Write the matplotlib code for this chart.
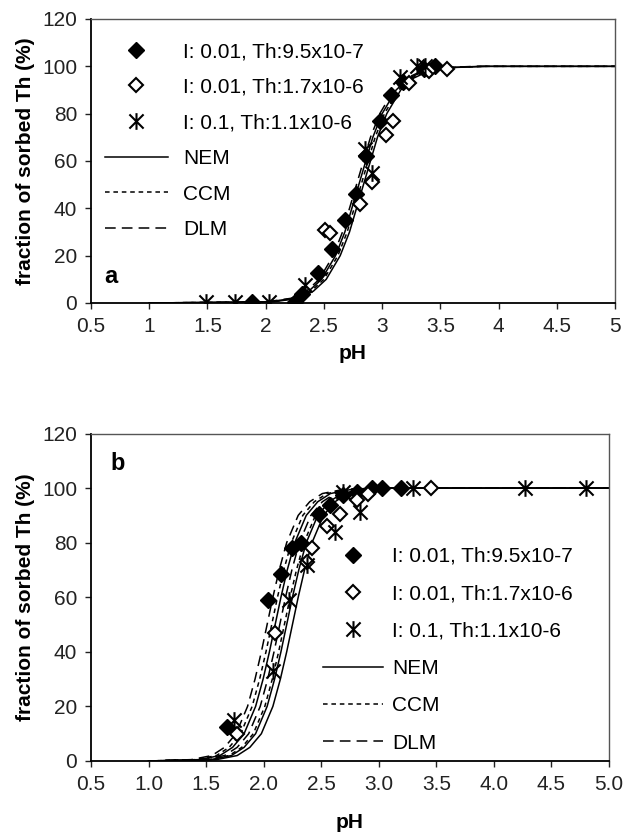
import matplotlib
matplotlib.use('Agg')
import matplotlib.pyplot as plt
from matplotlib.path import Path

plt.rcParams['font.family'] = ['Liberation Sans', 'DejaVu Sans']

# ---------------- panel a data ----------------
a_fill_ph = [1.88, 2.25, 2.31, 2.45, 2.57, 2.68, 2.78, 2.86, 2.98, 3.08, 3.18, 3.36, 3.45]
a_fill_pc = [0.5, 0.5, 4, 12.5, 23, 35, 46, 62, 77, 88, 93.5, 99, 100]
a_open_ph = [2.51, 2.55, 2.81, 2.91, 3.03, 3.09, 3.23, 3.40, 3.56]
a_open_pc = [31, 29.5, 42, 51, 71, 77, 93, 98, 99]
a_star_ph = [1.49, 1.74, 2.03, 2.34, 2.85, 2.91, 3.15, 3.30, 3.37]
a_star_pc = [0.5, 0.5, 0.5, 7.5, 65, 55, 95.6, 100, 100]

a_curve_pc = [0, 0.5, 2, 5, 10, 20, 30, 40, 50, 60, 70, 80, 90, 95, 98, 99.5, 100, 100]
a_nem1_ph = [1.0, 2.07, 2.28, 2.41, 2.52, 2.64, 2.72, 2.78, 2.84, 2.90, 2.96, 3.04, 3.16, 3.27, 3.40, 3.61, 3.90, 5.0]
a_nem2_ph = [1.0, 2.03, 2.24, 2.37, 2.48, 2.60, 2.68, 2.74, 2.80, 2.86, 2.92, 3.00, 3.12, 3.23, 3.36, 3.57, 3.85, 5.0]
a_ccm_ph = [1.0, 2.05, 2.26, 2.39, 2.50, 2.62, 2.70, 2.76, 2.82, 2.88, 2.94, 3.02, 3.14, 3.25, 3.38, 3.59, 3.88, 5.0]
a_dlm_ph = [1.0, 2.01, 2.22, 2.35, 2.46, 2.58, 2.66, 2.72, 2.78, 2.84, 2.90, 2.98, 3.10, 3.21, 3.34, 3.55, 3.80, 5.0]

# ---------------- panel b data ----------------
b_fill_ph = [1.68, 2.04, 2.15, 2.25, 2.32, 2.48, 2.58, 2.69, 2.81, 2.94, 3.03, 3.19]
b_fill_pc = [12.6, 59, 68.5, 78, 80, 90.5, 93.8, 97.4, 98.6, 99.9, 100, 100]
b_open_ph = [1.77, 2.10, 2.38, 2.42, 2.55, 2.66, 2.81, 2.91, 3.45]
b_open_pc = [10, 47, 73, 78, 86, 90.5, 95.6, 98, 100]
b_star_ph = [1.74, 2.08, 2.22, 2.38, 2.62, 2.69, 2.84, 3.30, 4.27, 4.80]
b_star_pc = [15, 33, 59, 72, 84, 98.6, 91.3, 100, 100, 100]

b_curve_pc = [0, 0.5, 2, 5, 10, 20, 30, 40, 50, 60, 70, 80, 90, 95, 98, 99.5, 100, 100]
b_dlm1_ph = [1.0, 1.37, 1.55, 1.66, 1.76, 1.86, 1.925, 1.98, 2.03, 2.08, 2.135, 2.20, 2.30, 2.40, 2.51, 2.69, 2.92, 5.0]
b_dlm2_ph = [1.0, 1.48, 1.66, 1.77, 1.87, 1.97, 2.035, 2.09, 2.14, 2.19, 2.245, 2.31, 2.41, 2.51, 2.62, 2.80, 3.02, 5.0]
b_ccm1_ph = [1.0, 1.41, 1.59, 1.70, 1.80, 1.90, 1.965, 2.02, 2.07, 2.12, 2.175, 2.24, 2.34, 2.44, 2.55, 2.73, 2.96, 5.0]
b_ccm2_ph = [1.0, 1.52, 1.70, 1.81, 1.91, 2.01, 2.075, 2.13, 2.18, 2.23, 2.285, 2.35, 2.45, 2.55, 2.66, 2.84, 3.06, 5.0]
b_nem1_ph = [1.0, 1.44, 1.62, 1.73, 1.83, 1.93, 1.995, 2.05, 2.10, 2.15, 2.205, 2.27, 2.37, 2.47, 2.58, 2.76, 2.97, 5.0]
b_nem2_ph = [1.0, 1.54, 1.72, 1.83, 1.93, 2.03, 2.095, 2.15, 2.20, 2.25, 2.305, 2.37, 2.47, 2.57, 2.68, 2.86, 3.06, 5.0]
b_nem3_ph = [1.0, 1.59, 1.77, 1.88, 1.98, 2.08, 2.145, 2.20, 2.25, 2.30, 2.355, 2.42, 2.52, 2.62, 2.73, 2.91, 3.11, 5.0]

labels = ['I: 0.01, Th:9.5x10-7', 'I: 0.01, Th:1.7x10-6', 'I: 0.1, Th:1.1x10-6', 'NEM', 'CCM', 'DLM']
a_xticks = [0.5, 1, 1.5, 2, 2.5, 3, 3.5, 4, 4.5, 5]
a_xticklabels = ['0.5', '1', '1.5', '2', '2.5', '3', '3.5', '4', '4.5', '5']
b_xticklabels = ['0.5', '1.0', '1.5', '2.0', '2.5', '3.0', '3.5', '4.0', '4.5', '5.0']
yticks = [0, 20, 40, 60, 80, 100, 120]

# asterisk marker: vertical bar plus an X
star = Path([(0, -1), (0, 1), (-0.85, -0.85), (0.85, 0.85), (-0.85, 0.85), (0.85, -0.85)],
            [Path.MOVETO, Path.LINETO, Path.MOVETO, Path.LINETO, Path.MOVETO, Path.LINETO])

W, H = 626, 835
fig = plt.figure(figsize=(W / 100, H / 100), dpi=100)

FS = 15
dotted = (0, (3, 2.5))
dashed = (0, (7, 4))


def style_axes(ax, xticklabels, xpad):
    ax.set_xlim(0.5, 5)
    ax.set_ylim(0, 120)
    ax.set_xticks(a_xticks)
    ax.set_xticklabels(xticklabels)
    ax.set_yticks(yticks)
    ax.tick_params(direction='out', length=4, width=1, labelsize=FS, colors='#222222', pad=6)
    for s in ['left', 'bottom']:
        ax.spines[s].set_linewidth(1.3)
        ax.spines[s].set_color('black')
    for s in ['top', 'right']:
        ax.spines[s].set_linewidth(1.0)
        ax.spines[s].set_color('#555555')
    ax.set_xlabel('pH', fontsize=FS, fontweight='bold', labelpad=xpad)
    ax.set_ylabel('fraction of sorbed Th (%)', fontsize=FS, fontweight='bold', labelpad=5)


def draw_points(ax, fph, fpc, oph, opc, sph, spc):
    h1, = ax.plot(fph, fpc, ls='none', marker='D', ms=8, color='black', zorder=5)
    h2, = ax.plot(oph, opc, ls='none', marker='D', ms=7.5, mfc='white', mec='black', mew=1.5, zorder=5)
    h3, = ax.plot(sph, spc, ls='none', marker=star, ms=12, mfc='none', mec='black', mew=1.5, zorder=6)
    return [h1, h2, h3]


# ---------------- panel a ----------------
axa = fig.add_axes([91 / W, 1 - 303 / H, 524 / W, 284 / H])
hn, = axa.plot(a_nem1_ph, a_curve_pc, color='black', lw=1.1)
axa.plot(a_nem2_ph, a_curve_pc, color='black', lw=1.1)
hc, = axa.plot(a_ccm_ph, a_curve_pc, color='black', lw=1.1, ls=dotted)
hd, = axa.plot(a_dlm_ph, a_curve_pc, color='black', lw=1.1, ls=dashed)
pts = draw_points(axa, a_fill_ph, a_fill_pc, a_open_ph, a_open_pc, a_star_ph, a_star_pc)
style_axes(axa, a_xticklabels, 6)
axa.text(0.67, 8.4, 'a', fontsize=17, fontweight='bold', ha='center', va='baseline')
axa.legend(pts + [hn, hc, hd], labels, loc='upper left', frameon=False,
           bbox_to_anchor=(105 / W, 1 - 42 / H), bbox_transform=fig.transFigure,
           borderpad=0, borderaxespad=0, fontsize=FS, handlelength=3.0,
           handletextpad=0.75, labelspacing=0.8)

# ---------------- panel b ----------------
axb = fig.add_axes([91 / W, 1 - 761 / H, 518 / W, 327.5 / H])
hn, = axb.plot(b_nem1_ph, b_curve_pc, color='black', lw=1.1)
axb.plot(b_nem2_ph, b_curve_pc, color='black', lw=1.1)
axb.plot(b_nem3_ph, b_curve_pc, color='black', lw=1.1)
hc, = axb.plot(b_ccm1_ph, b_curve_pc, color='black', lw=1.1, ls=dotted)
axb.plot(b_ccm2_ph, b_curve_pc, color='black', lw=1.1, ls=dotted)
hd, = axb.plot(b_dlm1_ph, b_curve_pc, color='black', lw=1.1, ls=dashed)
axb.plot(b_dlm2_ph, b_curve_pc, color='black', lw=1.1, ls=dashed)
pts = draw_points(axb, b_fill_ph, b_fill_pc, b_open_ph, b_open_pc, b_star_ph, b_star_pc)
style_axes(axb, b_xticklabels, 14)
axb.text(0.73, 106.6, 'b', fontsize=17, fontweight='bold', ha='center', va='baseline')
axb.legend(pts + [hn, hc, hd], labels, loc='upper left', frameon=False,
           bbox_to_anchor=(323 / W, 1 - 547 / H), bbox_transform=fig.transFigure,
           borderpad=0, borderaxespad=0, fontsize=FS, handlelength=2.9,
           handletextpad=0.4, labelspacing=0.88)

fig.savefig('out.png', dpi=100)
